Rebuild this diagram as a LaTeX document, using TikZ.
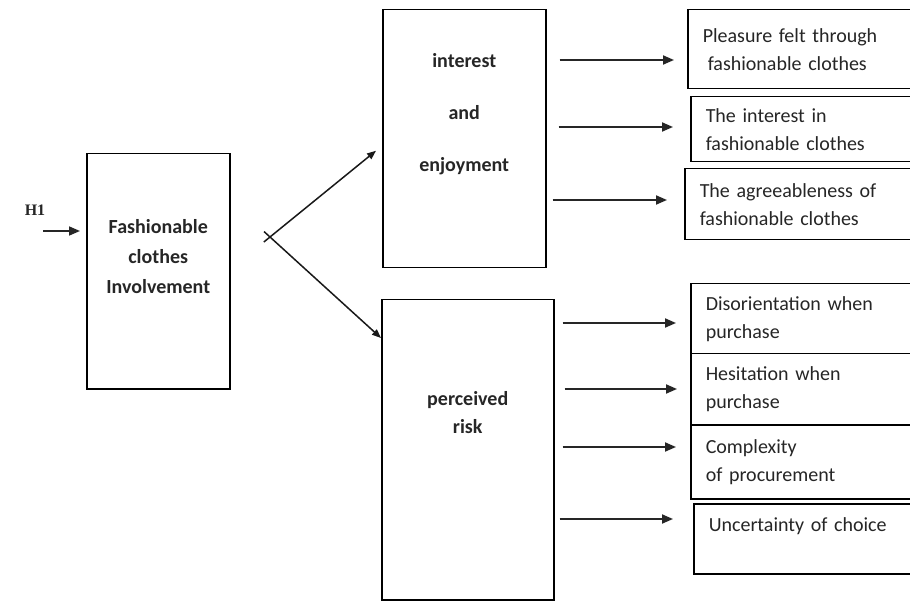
\documentclass[tikz,border=0pt]{standalone}
\usepackage{fontspec}
\setmainfont{Carlito}
\newfontfamily\hfont{Liberation Serif}
\usetikzlibrary{arrows.meta,calc}
\begin{document}
\begin{tikzpicture}[x=1pt,y=-1pt,
  mbox/.style={draw, line width=1.5pt, anchor=north west, align=center, inner sep=0pt,
    text=black!85, font=\bfseries\fontsize{20}{30}\selectfont},
  rbox/.style={draw, line width=1.5pt, anchor=north west, text width=200pt, inner xsep=15pt,
    inner ysep=0pt, align=left, text=black!85, font=\fontsize{20}{28}\selectfont},
  harr/.style={draw=black!85, line width=1.9pt, -{Triangle[length=11pt,width=9pt]}},
  barr/.style={draw=black!90, line width=1.5pt, -{Triangle[length=9pt,width=7pt]}}]
\useasboundingbox (0,0) rectangle (910,601);
\clip (0,0) rectangle (910,601);
\fill[white] (0,0) rectangle (910,601);

% main boxes
\node[mbox, minimum width=143pt, minimum height=235pt] (fc) at (86,153) {Fashionable\\clothes\\Involvement\\\mbox{}};
\node[mbox, minimum width=163pt, minimum height=258pt, font=\bfseries\fontsize{20}{52}\selectfont] (ie) at (382,9) {interest\\and\\enjoyment\\\mbox{}};
\node[mbox, minimum width=172pt, minimum height=300pt, font=\bfseries\fontsize{20}{28}\selectfont] (pr) at (381,299) {perceived\\risk\\[46pt]\mbox{}};

% right boxes
\node[rbox, minimum height=79pt] (r1) at (687,9) {Pleasure felt through\\\hspace*{5pt}fashionable clothes};
\node[rbox, minimum height=65pt] (r2) at (690,96) {The interest in\\fashionable clothes};
\node[rbox, minimum height=71pt] (r3) at (684,168) {The agreeableness of\\fashionable clothes};
\node[rbox, minimum height=70pt] (r4) at (690,283) {Disorientation when\\purchase};
\node[rbox, minimum height=71pt] (r5) at (690,353) {Hesitation when\\purchase};
\node[rbox, minimum height=74pt] (r6) at (690,424) {Complexity\\of procurement};
\node[rbox, minimum height=70pt] (r7) at (693,503) {Uncertainty of choice\\\mbox{}};

% H1
\node[font=\hfont\bfseries\fontsize{16}{18}\selectfont, text=black!85] (h1) at (35,210) {H1};
\coordinate (hs) at (43,231);
\draw[harr, line width=1.6pt, shorten >=6pt] (hs) -- (fc.west |- hs);

% branch
\coordinate (split) at (270,237);
\coordinate (t1) at ([xshift=-6pt,yshift=-12pt]ie.west);
\coordinate (t2) at ([yshift=-39pt]pr.north west);
\draw[barr] ($(split)!-8pt!(t1)$) -- (t1);
\draw[barr] ($(split)!-8pt!(t2)$) -- (t2);

% arrows from interest box
\draw[harr, shorten <=13pt, shorten >=13pt] (ie.east |- 0,60) -- (r1.west |- 0,60);
\draw[harr, shorten <=12pt, shorten >=17pt] (ie.east |- 0,127) -- (r2.west |- 0,127);
\draw[harr, shorten <=6pt, shorten >=17pt] (ie.east |- 0,200) -- (r3.west |- 0,200);

% arrows from perceived risk box
\draw[harr, shorten <=8pt, shorten >=14pt] (pr.east |- 0,323) -- (r4.west |- 0,323);
\draw[harr, shorten <=10pt, shorten >=13pt] (pr.east |- 0,389) -- (r5.west |- 0,389);
\draw[harr, shorten <=8pt, shorten >=14pt] (pr.east |- 0,447) -- (r6.west |- 0,447);
\draw[harr, shorten <=5pt, shorten >=20pt] (pr.east |- 0,519) -- (r7.west |- 0,519);
\end{tikzpicture}
\end{document}
